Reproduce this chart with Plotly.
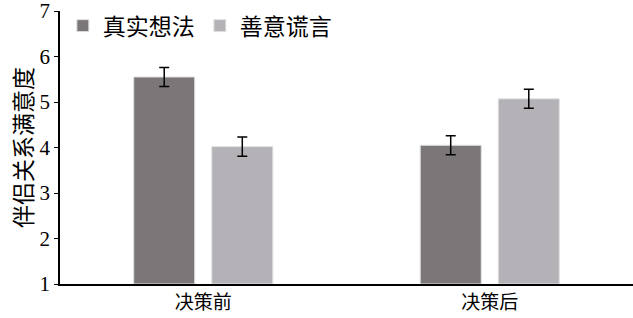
import plotly.graph_objects as go

categories = ["决策前", "决策后"]
series_names = ["真实想法", "善意谎言"]
truth_values = [5.55, 4.05]
lie_values = [4.02, 5.07]
truth_err = [0.21, 0.21]
lie_err = [0.21, 0.21]
y_ticks = [1, 2, 3, 4, 5, 6, 7]

colors = ["#7b7778", "#b4b2b6"]
cjk = "Noto Sans CJK SC"
serif = "Times New Roman, Liberation Serif, serif"

fig = go.Figure()
for name, vals, errs, col in zip(series_names, [truth_values, lie_values], [truth_err, lie_err], colors):
    fig.add_trace(go.Bar(
        x=categories, y=[v - 1 for v in vals], base=1, name=name,
        marker=dict(color=col, line=dict(color="#e2e2e2", width=1)),
        error_y=dict(type="data", array=errs, color="black", thickness=1.5, width=5),
    ))

fig.update_layout(
    width=633, height=318,
    margin=dict(l=60, r=0, t=11, b=34, autoexpand=False),
    paper_bgcolor="white", plot_bgcolor="white",
    barmode="group", bargap=0.455, bargroupgap=0.218,
    showlegend=True,
    legend=dict(orientation="h", x=0.005, y=1.025, xanchor="left", yanchor="top",
                font=dict(family=cjk, size=23, color="black"),
                bgcolor="rgba(0,0,0,0)", entrywidth=92, itemwidth=30),
    xaxis=dict(showline=True, linecolor="black", linewidth=1.5, ticks="",
               tickfont=dict(family=cjk, size=19, color="black"), showgrid=False,
               automargin=False),
    yaxis=dict(range=[1, 7], tickvals=y_ticks, showline=True, linecolor="black", linewidth=1.5,
               ticks="outside", ticklen=4, tickcolor="black", showgrid=False, zeroline=False,
               ticklabeloverflow="allow", automargin=False,
               tickfont=dict(family=serif, size=21, color="black"),
               title=dict(text="伴侣关系满意度", font=dict(family=cjk, size=23, color="black"), standoff=0)),
)

fig.write_html("out.html")
